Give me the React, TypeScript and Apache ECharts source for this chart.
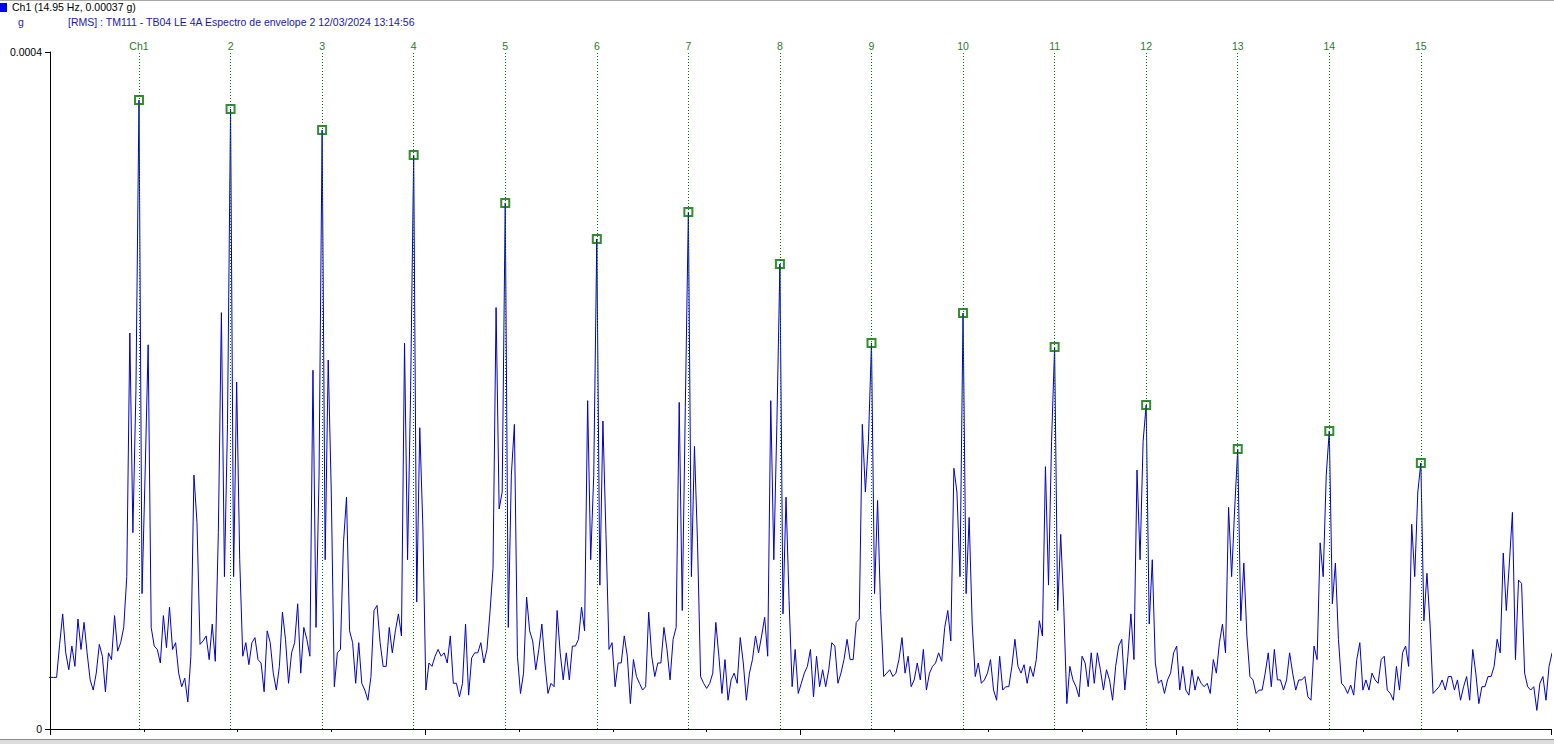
import React, { useEffect, useRef } from "react";
import * as echarts from "echarts";

// ---- data -------------------------------------------------------------
const FUNDAMENTAL_HZ = 14.95;
const BINS_PER_ORDER = 30;
const BIN_HZ = FUNDAMENTAL_HZ / BINS_PER_ORDER;
const X_MIN_HZ = 0.42;
const X_MAX_HZ = 245.5;
const Y_MAX_G = 0.0004;

// envelope spectrum amplitude, micro-g, one value per bin (bin i = i * BIN_HZ)
const AMP_UG = [
  30.5, 30.5, 30.5, 30.5, 50, 68, 45, 35, 49, 37,
  65, 47, 63, 45, 29, 23, 33, 50, 43, 22,
  45, 41, 67, 46, 51, 60, 90, 234, 116, 200,
  371.6, 80, 150, 227, 60, 49, 47, 39, 67, 48,
  72, 47, 51, 33, 25, 30, 16, 43, 150, 122,
  50, 52, 55, 41, 62, 40, 116, 246, 90, 180,
  366.3, 90, 205, 100, 43, 51, 38, 51, 54, 41,
  39, 22, 58, 51, 33, 23, 37, 69, 53, 27,
  45, 51, 74, 33, 60, 53, 43, 212, 60, 150,
  353.9, 100, 218, 140, 25, 45, 47, 110, 137, 58,
  51, 27, 51, 27, 23, 17, 31, 70, 73, 51,
  37, 37, 60, 45, 58, 68, 55, 228, 100, 200,
  339.1, 75, 178, 120, 23, 39, 37, 43, 47, 43,
  45, 39, 55, 27, 27, 19, 27, 62, 20, 42,
  45, 45, 51, 39, 47, 69, 95, 249, 130, 140,
  310.8, 60, 150, 180, 43, 21, 33, 78, 58, 52,
  35, 47, 62, 39, 21, 27, 25, 70, 45, 29,
  45, 29, 49, 49, 53, 72, 58, 194, 100, 150,
  289.5, 85, 182, 115, 47, 51, 25, 39, 39, 55,
  43, 15, 41, 31, 27, 23, 25, 69, 43, 31,
  39, 39, 60, 47, 29, 53, 60, 193, 70, 190,
  305.5, 90, 167, 110, 31, 27, 24, 27, 33, 63,
  43, 21, 41, 17, 29, 33, 27, 54, 39, 17,
  33, 41, 55, 45, 55, 66, 43, 194, 100, 180,
  274.7, 68, 137, 76, 25, 47, 21, 27, 33, 37,
  47, 19, 43, 25, 35, 25, 35, 51, 49, 27,
  33, 41, 53, 41, 41, 63, 65, 180, 140, 170,
  228.1, 80, 135, 70, 31, 33, 35, 31, 33, 41,
  54, 33, 43, 25, 29, 39, 29, 47, 23, 33,
  37, 39, 45, 40, 60, 70, 52, 154, 140, 90,
  245.8, 80, 125, 62, 31, 39, 27, 29, 33, 41,
  23, 17, 43, 23, 25, 25, 37, 53, 37, 33,
  38, 27, 37, 31, 41, 64, 55, 155, 85, 170,
  225.7, 70, 115, 72, 15, 37, 29, 25, 19, 43,
  39, 25, 45, 27, 45, 35, 23, 35, 29, 17,
  37, 49, 53, 23, 43, 68, 41, 153, 100, 170,
  191.4, 62, 100, 39, 27, 29, 21, 29, 33, 45,
  49, 23, 37, 23, 20, 35, 23, 31, 27, 25,
  27, 21, 41, 33, 51, 62, 45, 131, 90, 130,
  165.4, 64, 98, 55, 31, 29, 21, 23, 23, 33,
  45, 25, 47, 29, 29, 23, 29, 45, 33, 23,
  29, 29, 31, 19, 17, 49, 41, 110, 90, 150,
  176.1, 74, 98, 53, 27, 25, 21, 26, 20, 41,
  51, 23, 29, 23, 33, 29, 27, 41, 43, 23,
  21, 17, 37, 23, 45, 49, 37, 121, 90, 140,
  157.2, 64, 92, 62, 21, 23, 25, 29, 23, 31,
  31, 23, 29, 17, 25, 31, 17, 47, 33, 15,
  25, 25, 31, 31, 37, 53, 45, 104, 70, 98,
  128, 41, 88, 86, 33, 25, 23, 25, 11, 27,
  31, 17, 37, 45,
];

const HARMONIC_ORDERS = [1, 2, 3, 4, 5, 6, 7, 8, 9, 10, 11, 12, 13, 14, 15];
const HARMONIC_LABELS = ["Ch1", "2", "3", "4", "5", "6", "7", "8", "9", "10", "11", "12", "13", "14", "15"];
const Y_TICK_LABELS = ["0", "0.0004"];
const UNIT = "g";
const TITLE = "[RMS] : TM111 - TB04 LE 4A Espectro de envelope 2 12/03/2024 13:14:56";

// ---- chart ------------------------------------------------------------
const FONT = "'Liberation Sans', Arial, sans-serif";
const MARKER_GREEN = "#007200";
const DOT_GREEN = "#008000";
const LABEL_GREEN = "#2a7a2a";
const BLUE = "#0000c8";
const TEXT_BLUE = "#1818b4";

export default function App() {
  const ref = useRef<HTMLDivElement>(null);

  useEffect(() => {
    if (!ref.current) return;
    document.body.style.margin = "0";
    const chart = echarts.init(ref.current, null, { renderer: "svg" });

    const lineData = AMP_UG.map((a, i) => [i * BIN_HZ, a * 1e-6]);
    const markerData = HARMONIC_ORDERS.map((n) => {
      const idx = n * BINS_PER_ORDER;
      return [idx * BIN_HZ, AMP_UG[idx] * 1e-6];
    });
    const cursorText = `Ch1 (${FUNDAMENTAL_HZ} Hz, ${(AMP_UG[BINS_PER_ORDER] * 1e-6).toFixed(5)} g)`;

    const option: any = {
      animation: false,
      backgroundColor: "#ffffff",
      grid: { left: 50, right: 3, top: 52, bottom: 15, containLabel: false },
      xAxis: [
        { type: "value", min: X_MIN_HZ, max: X_MAX_HZ, show: false },
        {
          type: "value",
          min: 0,
          max: 16,
          interval: 4,
          position: "bottom",
          offset: 0,
          axisLine: { show: true, lineStyle: { color: "#000000", width: 1 } },
          axisTick: { show: true, length: 6, lineStyle: { color: "#000000", width: 1 } },
          minorTick: { show: true, splitNumber: 4, length: 3, lineStyle: { color: "#000000", width: 1 } },
          axisLabel: { show: false },
          splitLine: { show: false },
          minorSplitLine: { show: false },
        },
      ],
      yAxis: {
        type: "value",
        min: 0,
        max: Y_MAX_G,
        interval: Y_MAX_G,
        axisLine: { show: true, lineStyle: { color: "#000000", width: 1 } },
        axisTick: { show: true, length: 5, lineStyle: { color: "#000000", width: 1 } },
        axisLabel: {
          margin: 8,
          color: "#000000",
          fontFamily: FONT,
          fontSize: 10.5,
          formatter: (v: number) => (v === 0 ? Y_TICK_LABELS[0] : Y_TICK_LABELS[1]),
        },
        splitLine: { show: false },
      },
      series: [
        {
          type: "line",
          xAxisIndex: 0,
          data: [],
          z: 1,
          silent: true,
          markLine: {
            silent: true,
            symbol: ["none", "none"],
            animation: false,
            lineStyle: { color: DOT_GREEN, type: [1, 2], width: 1 },
            emphasis: { disabled: true },
            label: {
              show: true,
              position: "end",
              distance: 1,
              color: LABEL_GREEN,
              fontFamily: FONT,
              fontSize: 10.5,
            },
            data: HARMONIC_ORDERS.map((n, k) => ({
              xAxis: n * FUNDAMENTAL_HZ,
              label: { formatter: HARMONIC_LABELS[k] },
            })),
          },
        },
        {
          type: "line",
          xAxisIndex: 0,
          data: lineData,
          z: 2,
          symbol: "none",
          silent: true,
          lineStyle: { color: BLUE, width: 1 },
        },
        {
          type: "scatter",
          xAxisIndex: 0,
          data: markerData,
          symbol: "rect",
          symbolSize: 8,
          silent: true,
          z: 5,
          itemStyle: { color: "rgba(0,0,0,0)", borderColor: MARKER_GREEN, borderWidth: 2 },
        },
      ],
      graphic: [
        { type: "rect", shape: { x: 0, y: 0, width: 1554, height: 1 }, style: { fill: "#a8a8a8" }, silent: true },
        { type: "rect", shape: { x: 0, y: 3, width: 7, height: 9 }, style: { fill: "#0000ff" }, silent: true },
        {
          type: "text",
          x: 12,
          y: 7,
          silent: true,
          style: { text: cursorText, fill: "#000000", font: `10.5px ${FONT}`, verticalAlign: "middle" },
        },
        {
          type: "text",
          x: 18,
          y: 22,
          silent: true,
          style: { text: UNIT, fill: TEXT_BLUE, font: `10.5px ${FONT}`, verticalAlign: "middle" },
        },
        {
          type: "text",
          x: 68,
          y: 22,
          silent: true,
          style: { text: TITLE, fill: TEXT_BLUE, font: `10.5px ${FONT}`, verticalAlign: "middle" },
        },
        { type: "rect", shape: { x: 0, y: 739, width: 1554, height: 5 }, style: { fill: "#dcdcdc" }, silent: true },
        { type: "rect", shape: { x: 0, y: 739, width: 1554, height: 1 }, style: { fill: "#8c8c8c" }, silent: true },
      ],
    };

    chart.setOption(option);
    return () => chart.dispose();
  }, []);

  return <div ref={ref} style={{ position: "fixed", left: 0, top: 0, width: 1554, height: 744 }} />;
}
